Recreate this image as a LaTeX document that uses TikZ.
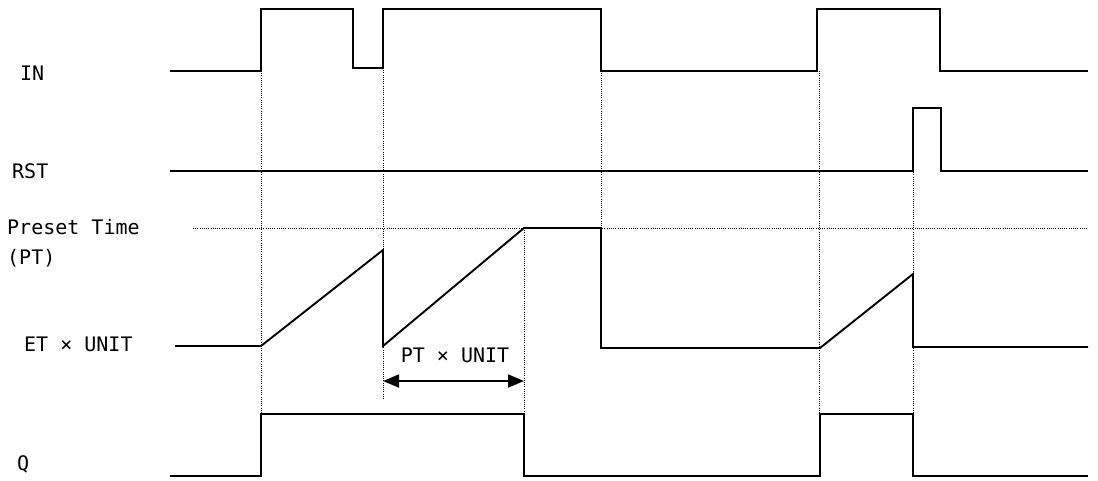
\documentclass[tikz,border=0pt]{standalone}
\usepackage{fontspec}
\setmainfont{DejaVu Sans Mono}
\usetikzlibrary{arrows.meta}
\begin{document}
\begin{tikzpicture}[x=1pt,y=-1pt,
  sig/.style={line width=1.9pt, line join=miter},
  guide/.style={line width=0.9pt, dash pattern=on 0.9pt off 1.3pt},
  lbl/.style={anchor=west, inner sep=0pt, font=\fontsize{20}{24}\selectfont},
  dim/.style={line width=1.8pt, {Triangle[length=16pt,width=13pt]}-{Triangle[length=16pt,width=13pt]}},
]
\useasboundingbox (0,0) rectangle (1098,480);

% labels
\node[lbl] (lin)  at (20,73)  {IN};
\node[lbl] (lrst) at (12,171) {RST};
\node[lbl] (lpt1) at (7,227)  {Preset Time};
\node[lbl] (lpt2) at (7,258)  {(PT)};
\node[lbl] (let)  at (24,344) {ET × UNIT};
\node[lbl] (lq)   at (17,464) {Q};

% guide lines
\draw[guide] (193,228) -- (1088,228);
\draw[guide] (261,71) -- (261,476);
\draw[guide] (383,68) -- (383,400);
\draw[guide] (524,228) -- (524,414);
\draw[guide] (601,71) -- (601,228);
\draw[guide] (819,71) -- (819,414);
\draw[guide] (913,170) -- (913,443);

% IN
\draw[sig] (170,71) -- (261,71) -- (261,9) -- (353,9) -- (353,68) -- (383,68) -- (383,9)
  -- (601,9) -- (601,71) -- (817,71) -- (817,9) -- (940,9) -- (940,71) -- (1088,71);
% RST
\draw[sig] (170,171) -- (913,171) -- (913,108) -- (941,108) -- (941,171) -- (1088,171);
% ET x UNIT
\draw[sig] (175,346) -- (261,346) -- (383,250) -- (383,346) -- (524,228) -- (601,228)
  -- (601,348) -- (820,348) -- (913,274) -- (913,347) -- (1088,347);
% Q
\draw[sig] (170,476) -- (261,476) -- (261,414) -- (524,414) -- (524,476) -- (820,476)
  -- (820,414) -- (913,414) -- (913,476) -- (1088,476);

% dimension arrow
\coordinate (da) at (383,381);
\coordinate (db) at (524,381);
\draw[dim] (da) -- (db);
\node[lbl, anchor=center] (lptu) at (455,355) {PT × UNIT};
\end{tikzpicture}
\end{document}
